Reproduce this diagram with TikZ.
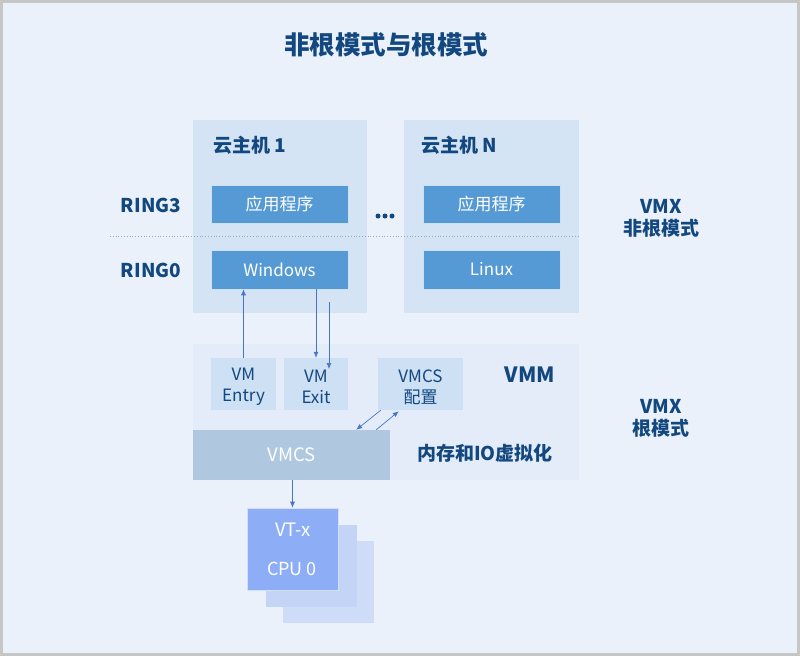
\documentclass[tikz,border=0pt]{standalone}
\usepackage{fontspec}
\setmainfont{Noto Sans CJK SC}
\usetikzlibrary{arrows.meta,calc}
\definecolor{bgc}{HTML}{EBF1FA}
\definecolor{frame}{HTML}{C6C6C6}
\definecolor{dark}{HTML}{12487F}
\definecolor{guest}{HTML}{D4E4F5}
\definecolor{mid}{HTML}{559AD4}
\definecolor{vmm}{HTML}{E3ECF8}
\definecolor{small}{HTML}{CDE0F4}
\definecolor{vmcsc}{HTML}{B0C8DF}
\definecolor{cpua}{HTML}{8DAEF6}
\definecolor{cpub}{HTML}{C3D4F6}
\definecolor{cpuc}{HTML}{CFDCF7}
\definecolor{arrc}{HTML}{4A74C8}
\definecolor{dotc}{HTML}{8FA9CF}
\tikzset{
  x=1pt,y=-1pt,
  midbox/.style={fill=mid,draw=white!70!mid,line width=0.6pt,text=white,font=\fontsize{17}{18}\selectfont,inner sep=0pt,minimum height=38pt,minimum width=137pt},
  smallbox/.style={fill=small,inner sep=0pt,minimum height=52pt},
  smalltext/.style={text=dark,font=\fontsize{17}{21}\selectfont,align=center,inner sep=0pt},
  lbl/.style={text=dark,font=\fontsize{19}{22}\selectfont\bfseries,align=center,inner sep=0pt},
  arr/.style={draw=arrc,line width=0.7pt,-{Latex[length=6pt,width=5pt]}},
  cpubox/.style={inner sep=0pt,minimum width=91pt,minimum height=82pt}
}
\begin{document}
\begin{tikzpicture}
\useasboundingbox (0,0) rectangle (800,656);
\fill[frame] (0,0) rectangle (800,656);
\fill[bgc] (3,3) rectangle (797,653);
% title
\node[text=dark,font=\fontsize{25.5}{28}\selectfont\bfseries,inner sep=0pt] (title) at (386,45) {非根模式与根模式};
% guests
\node[fill=guest,inner sep=0pt,minimum width=174pt,minimum height=193pt] (g1) at (280,216.5) {};
\node[fill=guest,inner sep=0pt,minimum width=175pt,minimum height=193pt] (gn) at (491.5,216.5) {};
\node[lbl,anchor=west] (g1t) at (213,145) {云主机 1};
\node[lbl,anchor=west] (gnt) at (421,145) {云主机 N};
\node[midbox] (app1) at (279.5,204) {应用程序};
\node[midbox,minimum height=39pt] (win) at (279.5,269.5) {Windows};
\node[midbox] (appn) at (491.5,204) {应用程序};
\node[midbox,minimum height=39pt] (linux) at (491.5,269.5) {Linux};
% dots
\foreach \xx/\nm in {378/d1,385/d2,392/d3}
  \node[circle,fill=dark,inner sep=0pt,minimum size=5pt] (\nm) at (\xx,216) {};
% dotted separator
\coordinate (sepL) at (110,236);
\coordinate (sepR) at (580,236);
\draw[dotc,dotted,line width=0.8pt] (sepL) -- (sepR);
% ring labels
\node[lbl] (r3) at (151,205) {RING3};
\node[lbl] (r0) at (151,270) {RING0};
\node[lbl] (vmx1) at (661,218) {VMX\\非根模式};
\node[lbl] (vmx2) at (661,418) {VMX\\根模式};
% VMM
\node[fill=vmm,inner sep=0pt,minimum width=386pt,minimum height=136pt] (vmmbox) at (386,412) {};
\node[smallbox,minimum width=65pt] (entry) at (243.5,384) {};
\node[smallbox,minimum width=64pt] (exit) at (316,384) {};
\node[smallbox,minimum width=85pt] (cfg) at (420.5,384) {};
\node[smalltext] (entryt) at (243.5,387) {VM\\Entry};
\node[smalltext] (exitt) at (316,387) {VM\\Exit};
\node[smalltext] (cfgt) at (420.5,387) {VMCS\\配置};
\node[lbl,font=\fontsize{21}{24}\selectfont\bfseries] (vmmt) at (530,375) {VMM};
\node[fill=vmcsc,text=white,font=\fontsize{18.5}{20}\selectfont,inner sep=0pt,minimum width=197pt,minimum height=50pt] (vmcs) at (291.5,455) {VMCS};
\node[lbl] (memio) at (485,453) {内存和IO虚拟化};
% CPU stack
\node[cpubox,fill=cpuc] (cpu3) at (328,581.5) {};
\node[cpubox,fill=cpub] (cpu2) at (311.5,565.5) {};
\node[cpubox,fill=cpua,draw=white!60!cpua,line width=0.6pt] (cpu1) at (292.5,549) {};
\node[text=white,font=\fontsize{18.5}{20}\selectfont,inner sep=0pt] (vtx) at (293,530) {VT-x};
\node[text=white,font=\fontsize{18}{20}\selectfont,inner sep=0pt] (cpu0) at (292,569) {CPU 0};
% arrows
\draw[arr] (entry.north) -- (entry.north |- win.south);
\draw[arr] (win.south -| exit.north) -- (exit.north);
\coordinate (ex2s) at (329,302);
\coordinate (ex2e) at (329,369);
\draw[arr] (ex2s) -- (ex2e);
\draw[arr] ($(cfg.south west)+(3,0)$) -- ($(vmcs.north east)+(-34,0)$);
\draw[arr] ($(vmcs.north east)+(-14,0)$) -- ($(cfg.south west)+(21,1)$);
\draw[arr] (vmcs.south -| cpu1.north) -- (cpu1.north);
\end{tikzpicture}
\end{document}
